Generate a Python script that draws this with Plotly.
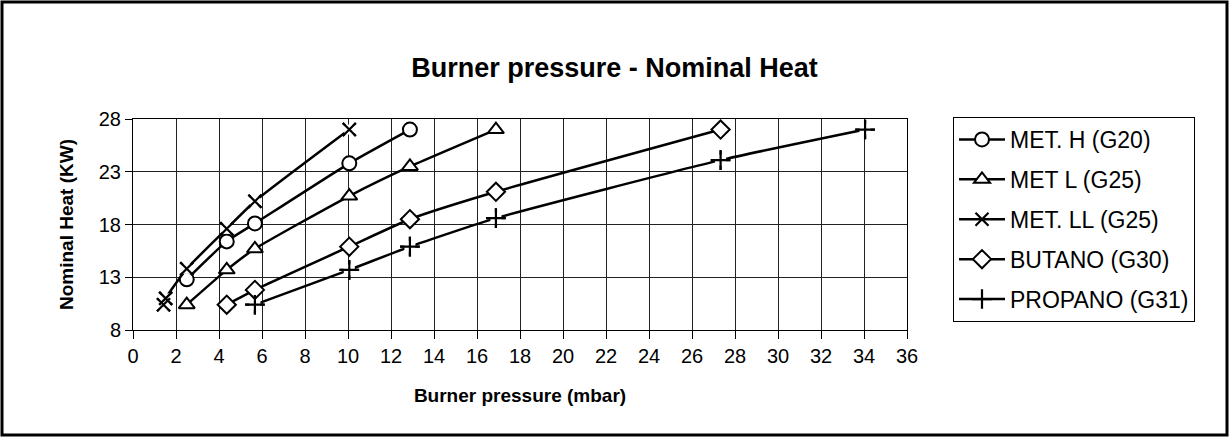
import plotly.graph_objects as go

# Burner pressure (mbar) vs nominal heat (kW) for each gas family
met_h_p = [2.5, 4.36, 5.67, 10.06, 12.88]
met_h_q = [12.8, 16.4, 18.1, 23.8, 27.0]

met_l_p = [2.5, 4.36, 5.67, 10.06, 12.88, 16.88]
met_l_q = [10.4, 13.7, 15.7, 20.7, 23.5, 27.0]

met_ll_p = [1.42, 1.52, 2.5, 4.36, 5.67, 10.06]
met_ll_q = [10.4, 11.0, 13.8, 17.6, 20.2, 27.0]

butano_p = [4.36, 5.67, 10.06, 12.88, 16.88, 27.33]
butano_q = [10.4, 11.8, 15.9, 18.5, 21.1, 27.0]

propano_p = [5.67, 10.06, 12.88, 16.88, 27.33, 34.05]
propano_q = [10.4, 13.7, 15.9, 18.6, 24.1, 27.0]

x_ticks = list(range(0, 37, 2))
y_ticks = [8, 13, 18, 23, 28]

FONT = "Arial, Liberation Sans, sans-serif"
W, H = 1229, 437
L, R, T, B = 133, 907, 119, 330  # plot area in pixels

fig = go.Figure()


def add_series(name, xs, ys, symbol, size, group, open_mark=False):
    marker = dict(symbol=symbol, size=size, color="white",
                  line=dict(color="black", width=2))
    if open_mark:
        marker = dict(symbol=symbol, size=size, color="black",
                      line=dict(color="black", width=2.2))
    fig.add_trace(go.Scatter(
        x=xs, y=ys, name=name, mode="lines+markers", legendgroup=group,
        line=dict(color="black", width=2.5, shape="spline", smoothing=0.5),
        marker=marker))
    if open_mark:
        # white patch under line-style markers, as the line stops short of them
        fig.add_trace(go.Scatter(
            x=xs, y=ys, mode="markers", showlegend=False, hoverinfo="skip",
            legendgroup=group,
            marker=dict(symbol="square", size=size - 3, color="white")))
        fig.add_trace(go.Scatter(
            x=xs, y=ys, mode="markers", showlegend=False, legendgroup=group,
            marker=marker))


add_series("MET. H (G20)", met_h_p, met_h_q, "circle", 14, "g1")
add_series("MET L (G25)", met_l_p, met_l_q, "triangle-up", 14, "g2")
add_series("MET. LL (G25)", met_ll_p, met_ll_q, "x-thin", 13, "g3", open_mark=True)
add_series("BUTANO (G30)", butano_p, butano_q, "diamond", 14, "g4")
add_series("PROPANO (G31)", propano_p, propano_q, "cross-thin", 14, "g5", open_mark=True)


def px(x):
    return (x - L) / (R - L)


def py(y):
    return (B - y) / (B - T)


# outer chart frame
fig.add_shape(type="rect", xref="paper", yref="paper",
              x0=px(2), x1=px(1227), y0=py(435), y1=py(2),
              line=dict(color="black", width=3))

fig.update_layout(
    width=W, height=H,
    margin=dict(l=L, r=W - R, t=T, b=H - B),
    paper_bgcolor="white", plot_bgcolor="white",
    font=dict(family=FONT, color="black", size=20),
    title=dict(text="<b>Burner pressure - Nominal Heat</b>",
               x=0.5, xref="container", xanchor="center",
               y=1 - 68 / H, yref="container", yanchor="middle",
               font=dict(size=27, family=FONT, color="black")),
    showlegend=True,
    legend=dict(x=px(953), y=py(117), xanchor="left", yanchor="top",
                bordercolor="black", borderwidth=1, bgcolor="white",
                font=dict(size=23, family=FONT, color="black"),
                tracegroupgap=7, itemwidth=46),
)

fig.update_xaxes(
    range=[0, 36], tickvals=x_ticks, ticktext=[str(v) for v in x_ticks],
    showgrid=True, gridcolor="#222", gridwidth=1,
    showline=True, linecolor="black", linewidth=1, mirror=True,
    ticks="outside", ticklen=8, tickcolor="black",
    tickfont=dict(size=20, family=FONT), zeroline=False,
    title=dict(text="<b>Burner pressure (mbar)</b>",
               font=dict(size=19, family=FONT), standoff=22),
)
fig.update_yaxes(
    range=[8, 28], tickvals=y_ticks, ticktext=[str(v) for v in y_ticks],
    showgrid=True, gridcolor="#222", gridwidth=1,
    showline=True, linecolor="black", linewidth=1, mirror=True,
    ticks="outside", ticklen=7, tickcolor="black",
    tickfont=dict(size=20, family=FONT), zeroline=False,
    title=dict(text="<b>Nominal Heat (KW)</b>",
               font=dict(size=19, family=FONT), standoff=20),
)

fig.write_html("out.html")
